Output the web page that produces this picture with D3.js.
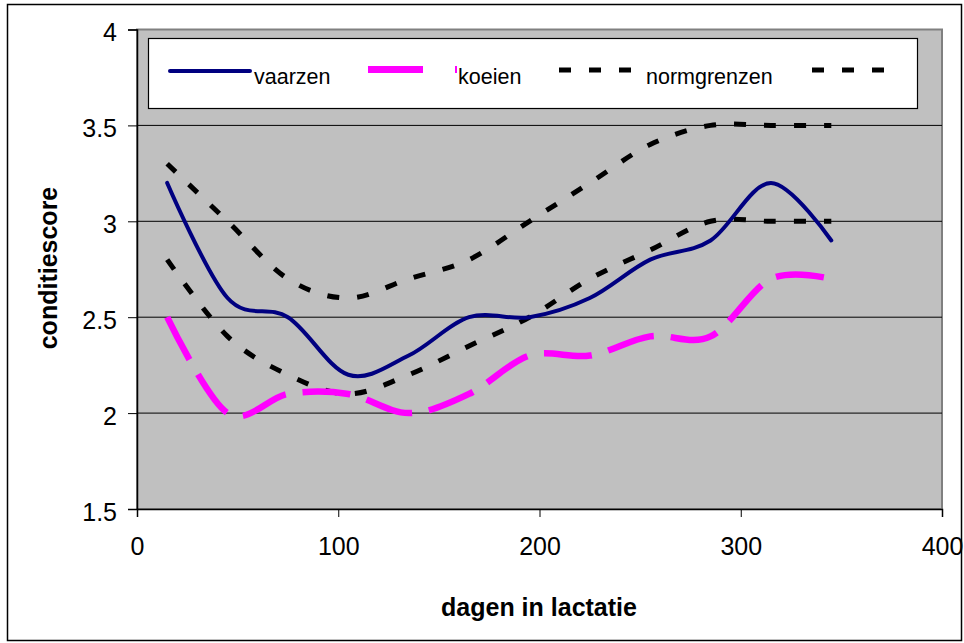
<!DOCTYPE html>
<html>
<head>
<meta charset="utf-8">
<script src="https://cdn.jsdelivr.net/npm/d3@7"></script>
<style>
  body { margin: 0; background: #fff; }
  text { font-family: "Liberation Sans", Arial, sans-serif; fill: #000; }
</style>
</head>
<body>
<svg id="chart" width="964" height="643"></svg>
<script>
// conditiescore per dag in lactatie

const days = [15, 45, 75, 105, 135, 165, 195, 225, 255, 285, 315, 345];
const vaarzen = [3.2, 2.6, 2.5, 2.2, 2.3, 2.5, 2.5, 2.6, 2.8, 2.9, 3.2, 2.9];
const koeien = [2.5, 2.0, 2.1, 2.1, 2.0, 2.1, 2.3, 2.3, 2.4, 2.4, 2.7, 2.7];
const normBoven = [3.3, 3.0, 2.7, 2.6, 2.7, 2.8, 3.0, 3.2, 3.4, 3.5, 3.5, 3.5];
const normOnder = [2.8, 2.4, 2.2, 2.1, 2.2, 2.35, 2.5, 2.7, 2.85, 3.0, 3.0, 3.0];

const xTicks = [0, 100, 200, 300, 400];
const yTicks = [1.5, 2, 2.5, 3, 3.5, 4];
const legendNames = ['vaarzen', 'koeien', 'normgrenzen', ''];

const svg = d3.select('#chart');

// outer frame
svg.append('rect')
   .attr('x', 7.5).attr('y', 4.5)
   .attr('width', 954).attr('height', 636)
   .attr('fill', 'none').attr('stroke', '#000').attr('stroke-width', 1.5);

// scales
const x = d3.scaleLinear().domain([0, 400]).range([137, 942]);
const y = d3.scaleLinear().domain([1.5, 4]).range([509, 29.5]);

// plot area
svg.append('rect')
   .attr('x', x(0)).attr('y', y(4))
   .attr('width', x(400) - x(0)).attr('height', y(1.5) - y(4))
   .attr('fill', '#c0c0c0').attr('stroke', '#808080').attr('stroke-width', 2);

// gridlines
svg.append('g')
   .selectAll('line')
   .data(yTicks.filter(d => d > 1.5 && d < 4))
   .join('line')
   .attr('x1', x(0)).attr('x2', x(400))
   .attr('y1', d => y(d)).attr('y2', d => y(d))
   .attr('stroke', '#000').attr('stroke-width', 1);

// axes
const xAxis = d3.axisBottom(x).tickValues(xTicks).tickSize(8).tickPadding(20).tickFormat(d3.format('d'));
const yAxis = d3.axisLeft(y).tickValues(yTicks).tickSize(9).tickPadding(11).tickFormat(d => d);

const gx = svg.append('g')
   .attr('transform', `translate(0, ${y(1.5)})`)
   .call(xAxis);
const gy = svg.append('g')
   .attr('transform', `translate(${x(0)}, 0)`)
   .call(yAxis);

[gx, gy].forEach(g => {
  g.select('.domain').attr('stroke', '#000').attr('stroke-width', 1.5);
  g.selectAll('.tick line').attr('stroke', '#000');
  g.selectAll('.tick text')
   .attr('font-family', '"Liberation Sans", Arial, sans-serif')
   .attr('font-size', 25).attr('fill', '#000');
});
gy.selectAll('.tick text').attr('dy', '0.45em');

// axis titles
svg.append('text')
   .attr('x', 539).attr('y', 616)
   .attr('text-anchor', 'middle')
   .attr('font-size', 25).attr('font-weight', 'bold')
   .text('dagen in lactatie');

svg.append('text')
   .attr('transform', 'translate(57, 268) rotate(-90)')
   .attr('text-anchor', 'middle')
   .attr('font-size', 25).attr('font-weight', 'bold')
   .text('conditiescore');

// lines
const line = d3.line()
   .x(d => x(d[0]))
   .y(d => y(d[1]))
   .curve(d3.curveCatmullRom.alpha(0));

const series = [
  { values: normBoven, stroke: '#000', width: 5, dash: '12,18', cap: 'butt' },
  { values: normOnder, stroke: '#000', width: 5, dash: '12,18', cap: 'butt' },
  { values: koeien, stroke: '#ff00ff', width: 6.5, dash: '48,17', cap: 'butt' },
  { values: vaarzen, stroke: '#000080', width: 4, dash: null, cap: 'round' }
];

svg.append('g')
   .selectAll('path')
   .data(series)
   .join('path')
   .attr('d', s => line(days.map((d, i) => [d, s.values[i]])))
   .attr('fill', 'none')
   .attr('stroke', s => s.stroke)
   .attr('stroke-width', s => s.width)
   .attr('stroke-dasharray', s => s.dash)
   .attr('stroke-linecap', s => s.cap)
   .attr('stroke-linejoin', 'round');

// legend
const legend = svg.append('g');
legend.append('rect')
   .attr('x', 148.5).attr('y', 38.5)
   .attr('width', 769).attr('height', 70)
   .attr('fill', '#fff').attr('stroke', '#000').attr('stroke-width', 1.2);

const legendItems = [
  { name: legendNames[0], x1: 170, x2: 250, ly: 71, stroke: '#000080', width: 4, dash: null, cap: 'round', tx: 254 },
  { name: legendNames[1], x1: 368, x2: 457, ly: 69.5, stroke: '#ff00ff', width: 7, dash: '55,32', cap: 'butt', tx: 458 },
  { name: legendNames[2], x1: 559, x2: 632, ly: 70, stroke: '#000', width: 5, dash: '12,18', cap: 'butt', tx: 646 },
  { name: legendNames[3], x1: 812, x2: 885, ly: 70, stroke: '#000', width: 5, dash: '12,18', cap: 'butt', tx: 898 }
];

legend.selectAll('line')
   .data(legendItems)
   .join('line')
   .attr('x1', d => d.x1).attr('x2', d => d.x2)
   .attr('y1', d => d.ly).attr('y2', d => d.ly)
   .attr('stroke', d => d.stroke)
   .attr('stroke-width', d => d.width)
   .attr('stroke-dasharray', d => d.dash)
   .attr('stroke-linecap', d => d.cap);

legend.selectAll('text')
   .data(legendItems)
   .join('text')
   .attr('x', d => d.tx).attr('y', 84)
   .attr('font-size', 21.5)
   .text(d => d.name);
</script>
</body>
</html>
